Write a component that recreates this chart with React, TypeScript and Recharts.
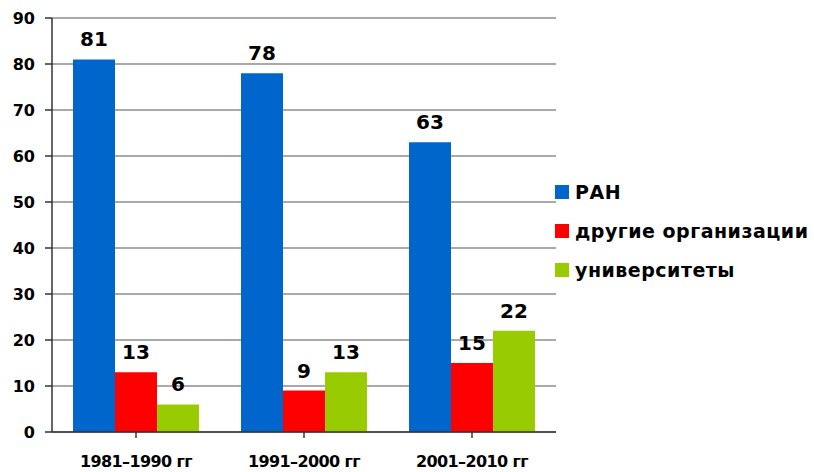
import React from "react";
import { BarChart, Bar, XAxis, YAxis, CartesianGrid, Legend, LabelList } from "recharts";

const periods = ["1981–1990 гг", "1991–2000 гг", "2001–2010 гг"];
const ran = [81, 78, 63];
const otherOrgs = [13, 9, 15];
const universities = [6, 13, 22];
const yTicks = [0, 10, 20, 30, 40, 50, 60, 70, 80, 90];

const SERIES = [
  { key: "ran", name: "РАН", color: "#0066CC" },
  { key: "other", name: "другие организации", color: "#FF0000" },
  { key: "univ", name: "университеты", color: "#99CC00" },
];

const FONT = "'DejaVu Sans', Verdana, sans-serif";

const data = periods.map((p, i) => ({
  period: p,
  ran: ran[i],
  other: otherOrgs[i],
  univ: universities[i],
}));

function LegendBox() {
  return (
    <div style={{ fontFamily: FONT, fontWeight: 700, fontSize: 19, letterSpacing: 0.5, color: "#000" }}>
      {SERIES.map(s => (
        <div key={s.key} style={{ display: "flex", alignItems: "center", height: 39 }}>
          <span style={{ width: 14, height: 14, background: s.color, marginRight: 6, flex: "none" }} />
          <span style={{ whiteSpace: "nowrap" }}>{s.name}</span>
        </div>
      ))}
    </div>
  );
}

export default function App() {
  return (
    <div style={{ position: "absolute", left: 0, top: 0, width: 814, height: 472, background: "#fff" }}>
      <BarChart
        width={814}
        height={472}
        data={data}
        margin={{ top: 18, right: 0, bottom: 0, left: 8 }}
        barCategoryGap="12.5%"
        barGap={0}
      >
        <CartesianGrid vertical={false} stroke="#8c8c8c" strokeWidth={1.5} />
        <XAxis
          dataKey="period"
          height={40}
          interval={0}
          stroke="#333"
          strokeWidth={1.5}
          tickSize={6}
          tickMargin={18}
          tick={{ fontFamily: FONT, fontWeight: 700, fontSize: 16, fill: "#000", letterSpacing: -0.6 }}
        />
        <YAxis
          width={44}
          domain={[0, 90]}
          ticks={yTicks}
          stroke="#333"
          strokeWidth={1.5}
          tickSize={7}
          tickMargin={10}
          tick={{ fontFamily: FONT, fontWeight: 700, fontSize: 16, fill: "#000" }}
        />
        <Legend
          layout="vertical"
          align="right"
          verticalAlign="middle"
          content={() => <LegendBox />}
          wrapperStyle={{ width: 258, left: 555, top: 172 }}
        />
        {SERIES.map(s => (
          <Bar key={s.key} dataKey={s.key} name={s.name} fill={s.color} isAnimationActive={false}>
            <LabelList
              dataKey={s.key}
              position="top"
              offset={13}
              style={{ fontFamily: FONT, fontWeight: 700, fontSize: 20, fill: "#000" }}
            />
          </Bar>
        ))}
      </BarChart>
    </div>
  );
}
